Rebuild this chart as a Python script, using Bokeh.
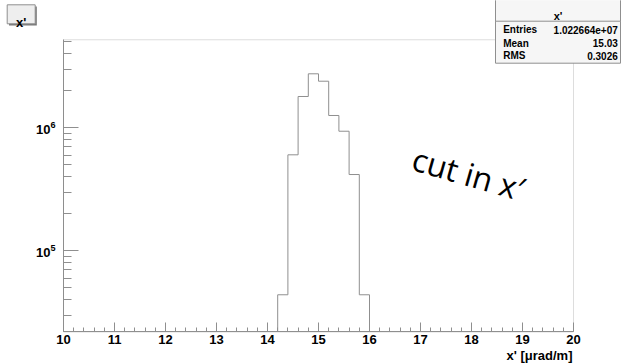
import numpy as np
from bokeh.plotting import figure
from bokeh.models import (Range1d, FixedTicker, SingleIntervalTicker, Label,
                          BoxAnnotation, LogTickFormatter)
from bokeh.embed import file_html
from bokeh.resources import INLINE

# ---------------- data ----------------
bin_edges = [14.2, 14.4, 14.6, 14.8, 15.0, 15.2, 15.4, 15.6, 15.8, 16.0]
bin_counts = [43900, 603000, 1797000, 2748000, 2392000, 1259000, 938000, 417000, 43900]
x_axis_bounds = (10, 20)
y_axis_bounds = (21870, 5.194e6)
x_tick_interval = 1
y_major_ticks = [1e5, 1e6]
y_minor_ticks = [3e4, 4e4, 5e4, 6e4, 7e4, 8e4, 9e4,
                 2e5, 3e5, 4e5, 5e5, 6e5, 7e5, 8e5, 9e5,
                 2e6, 3e6, 4e6, 5e6]
hist_title = "x'"
stats_labels = ["Entries", "Mean", "RMS"]
stats_values = ["1.022664e+07", "15.03", "0.3026"]
x_title = "x' [\u03bcrad/m]"
note_text = "cut in x\u2032"

W, H = 621, 363
GREY = "#8f8f8f"
FONT = "Liberation Sans"

# the frame fills the canvas; the axes are pinned at the histogram-frame edges
PX_PER_X = 51.0
PX_PER_DEC = 123.0
x_start = x_axis_bounds[0] - 63 / PX_PER_X
x_end = x_start + W / PX_PER_X
log_top = 6 + 127.3 / PX_PER_DEC
y_start = 10 ** (log_top - H / PX_PER_DEC)
y_end = 10 ** log_top

p = figure(width=W, height=H, x_range=Range1d(x_start, x_end),
           y_range=Range1d(y_start, y_end), y_axis_type="log",
           output_backend="svg", toolbar_location=None,
           min_border=0, min_border_left=0, min_border_right=0,
           min_border_top=0, min_border_bottom=0)
p.grid.visible = False
p.outline_line_color = None
p.background_fill_color = "white"
p.border_fill_color = "white"

# frame of the histogram pad
frame = BoxAnnotation(left=x_axis_bounds[0], right=x_axis_bounds[1],
                      bottom=y_axis_bounds[0], top=y_axis_bounds[1],
                      fill_alpha=0, line_color=GREY, line_width=1)
p.add_layout(frame)

# histogram outline built from bin edges / counts
floor = y_axis_bounds[0]
xs = [bin_edges[0]]
ys = [floor]
for i, c in enumerate(bin_counts):
    xs += [bin_edges[i], bin_edges[i + 1]]
    ys += [c, c]
xs.append(bin_edges[-1])
ys.append(floor)
p.line(xs, ys, line_color=GREY, line_width=1)

# axes
xa = p.xaxis[0]
xa.ticker = SingleIntervalTicker(interval=x_tick_interval, num_minor_ticks=5)
xa.fixed_location = y_axis_bounds[0]
xa.bounds = x_axis_bounds
ya = p.yaxis[0]
ya.ticker = FixedTicker(ticks=y_major_ticks, minor_ticks=y_minor_ticks)
ya.formatter = LogTickFormatter()
ya.fixed_location = x_axis_bounds[0]
ya.bounds = y_axis_bounds
for ax in (xa, ya):
    ax.axis_line_color = GREY
    ax.major_tick_line_color = GREY
    ax.minor_tick_line_color = GREY
    ax.major_tick_out = 0
    ax.minor_tick_out = 0
    ax.major_label_text_font = FONT
    ax.major_label_text_font_style = "bold"
    ax.major_label_text_color = "black"
xa.major_tick_in = 9
xa.minor_tick_in = 4
xa.major_label_text_font_size = "13px"
xa.major_label_standoff = 3
ya.major_tick_in = 15
ya.minor_tick_in = 8
ya.major_label_text_font_size = "13px"
ya.major_label_standoff = 8


def sy(y_top):
    return H - y_top


def box(l, r, t, b, fill, line=GREY, lw=1):
    ba = BoxAnnotation(left=l, right=r, top=sy(t), bottom=sy(b),
                       left_units="screen", right_units="screen",
                       top_units="screen", bottom_units="screen",
                       fill_color=fill, fill_alpha=1.0,
                       line_color=line if line else "white", line_width=lw,
                       line_alpha=1.0 if line else 0.0,
                       level="overlay")
    p.add_layout(ba)


def label(x, y, text, size, align="left", style="bold", font=FONT, angle=0,
          units="screen", baseline="middle"):
    lb = Label(x=x, y=sy(y) if units == "screen" else y, text=text,
               x_units=units, y_units=units,
               text_font=font, text_font_size=size,
               text_font_style=style, text_align=align,
               text_baseline=baseline, text_color="black", angle=angle,
               level="overlay")
    p.add_layout(lb)


# title box (top-left)
box(8.5, 36.3, 6, 25, "#777777", None)
box(6.7, 34.7, 4.3, 23.3, "#eeeeee")
label(20.7, 21.5, hist_title, "13px", align="center", baseline="alphabetic")

# stats box (top-right)
box(495, 620, -2, 62.7, "#f6f6f6")
box(495, 620, -2, 20.7, "#f6f6f6")
label(557.5, 15, hist_title, "11px", align="center")
row_y = [29.3, 42.7, 55.0]
for yy, lab, val in zip(row_y, stats_labels, stats_values):
    label(502.7, yy, lab, "10px", align="left")
    label(617.3, yy, val, "10px", align="right")

# x axis title
label(572, 355, x_title, "13px", align="right", baseline="alphabetic")

# annotation text (data coordinates)
label(16.86, 5.73e5, note_text, "32px", style="normal", font="Open Sans",
      angle=-np.deg2rad(16), units="data", baseline="alphabetic")

open("out.html", "w").write(file_html(p, INLINE))
